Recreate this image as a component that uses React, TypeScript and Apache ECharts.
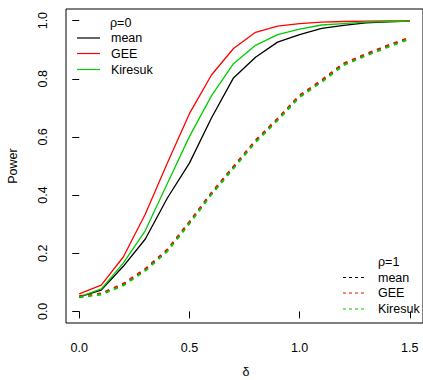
import React, { useEffect, useRef } from "react";
import * as echarts from "echarts";

const deltas = [0, 0.1, 0.2, 0.3, 0.4, 0.5, 0.6, 0.7, 0.8, 0.9, 1.0, 1.1, 1.2, 1.3, 1.4, 1.5];
const meanRho0 = [0.05, 0.073, 0.155, 0.249, 0.39, 0.51, 0.665, 0.803, 0.874, 0.926, 0.952, 0.973, 0.984, 0.992, 0.996, 0.998];
const geeRho0 = [0.06, 0.09, 0.187, 0.335, 0.51, 0.68, 0.813, 0.904, 0.96, 0.981, 0.99, 0.995, 0.997, 0.998, 0.999, 0.999];
const kiresukRho0 = [0.05, 0.077, 0.166, 0.278, 0.44, 0.601, 0.741, 0.852, 0.915, 0.952, 0.971, 0.985, 0.99, 0.995, 0.997, 0.998];
const meanRho1 = [0.05, 0.06, 0.092, 0.143, 0.21, 0.305, 0.405, 0.495, 0.585, 0.66, 0.74, 0.792, 0.85, 0.882, 0.912, 0.94];
const geeRho1 = [0.052, 0.062, 0.095, 0.146, 0.213, 0.308, 0.408, 0.498, 0.588, 0.663, 0.743, 0.795, 0.853, 0.885, 0.915, 0.942];
const kiresukRho1 = [0.049, 0.058, 0.089, 0.14, 0.207, 0.302, 0.402, 0.492, 0.582, 0.657, 0.737, 0.789, 0.847, 0.879, 0.909, 0.937];
const xTicks = [0, 0.5, 1.0, 1.5];
const yTicks = [0, 0.2, 0.4, 0.6, 0.8, 1.0];
const methods = ["mean", "GEE", "Kiresuk"];
const colors = ["#000000", "#FF0000", "#00CD00"];

const FONT = "Liberation Sans, Arial, sans-serif";
const FS = 12.5;

export default function App() {
  const ref = useRef<HTMLDivElement>(null);
  useEffect(() => {
    if (!ref.current) return;
    const chart = echarts.init(ref.current, null, { renderer: "svg" });
    const pairs = (ys: number[]) => deltas.map((d, i) => [d, ys[i]]);
    const solid = [meanRho0, geeRho0, kiresukRho0];
    const dashed = [meanRho1, geeRho1, kiresukRho1];
    const series: any[] = [];
    solid.forEach((ys, k) => {
      series.push({
        name: methods[k] + " (ρ=0)",
        type: "line",
        data: pairs(ys),
        showSymbol: false,
        symbol: "none",
        lineStyle: { color: colors[k], width: 1.3 },
      });
    });
    dashed.forEach((ys, k) => {
      series.push({
        name: methods[k] + " (ρ=1)",
        type: "line",
        data: pairs(ys),
        showSymbol: false,
        symbol: "none",
        lineStyle: { color: colors[k], width: 2, type: [4, 5] },
      });
    });

    const legendGraphics: any[] = [];
    const addLegend = (id: string, title: string, tx: number, ty: number, lx1: number, lx2: number, textX: number, ys: number[], dashed: boolean) => {
      legendGraphics.push({
        id: id + "-title",
        type: "text",
        x: tx,
        y: ty,
        style: { text: title, font: `${FS}px ${FONT}`, fill: "#000", textVerticalAlign: "middle", textAlign: "left" },
      });
      methods.forEach((m, k) => {
        const st: any = { stroke: colors[k], lineWidth: 1.2 };
        if (dashed) st.lineDash = [3, 3];
        legendGraphics.push({
          id: id + "-line-" + k,
          type: "line",
          shape: { x1: lx1, y1: ys[k], x2: lx2, y2: ys[k] },
          style: st,
        });
        legendGraphics.push({
          id: id + "-text-" + k,
          type: "text",
          x: textX,
          y: ys[k],
          style: { text: m, font: `${FS}px ${FONT}`, fill: "#000", textVerticalAlign: "middle", textAlign: "left" },
        });
      });
    };
    addLegend("l0", "ρ=0", 110, 23, 77, 100, 111, [38, 53.5, 69.5], false);
    addLegend("l1", "ρ=1", 378, 262, 343, 367, 378, [277.5, 293, 309], true);

    chart.setOption({
      animation: false,
      backgroundColor: "#fff",
      grid: {
        left: 66,
        top: 9,
        width: 359.6,
        height: 314,
        show: true,
        borderColor: "#000",
        borderWidth: 1,
        containLabel: false,
      },
      xAxis: {
        type: "value",
        min: -0.06,
        max: 1.56,
        splitLine: { show: false },
        axisLine: { show: false },
        axisTick: { show: true, length: 7, lineStyle: { color: "#000" }, customValues: xTicks },
        axisLabel: {
          customValues: xTicks,
          formatter: (v: number) => v.toFixed(1),
          fontFamily: FONT,
          fontSize: FS,
          color: "#000",
          margin: 18.5,
        },
      },
      yAxis: {
        type: "value",
        min: -0.04,
        max: 1.04,
        splitLine: { show: false },
        axisLine: { show: false },
        axisTick: { show: true, length: 7, lineStyle: { color: "#000" }, customValues: yTicks },
        axisLabel: {
          customValues: yTicks,
          formatter: (v: number) => v.toFixed(1),
          fontFamily: FONT,
          fontSize: FS,
          color: "#000",
          rotate: 90,
          margin: 17,
        },
      },
      series,
      graphic: [
        ...legendGraphics,
        {
          id: "ytitle",
          type: "text",
          x: 13,
          y: 166,
          rotation: Math.PI / 2,
          style: { text: "Power", font: `${FS}px ${FONT}`, fill: "#000", textAlign: "center", textVerticalAlign: "middle" },
        },
        {
          id: "xtitle",
          type: "text",
          x: 246,
          y: 372,
          style: { text: "δ", font: `${FS}px ${FONT}`, fill: "#000", textAlign: "center", textVerticalAlign: "middle" },
        },
      ],
    });
    return () => chart.dispose();
  }, []);
  return <div ref={ref} style={{ width: 423, height: 380, position: "absolute", left: 0, top: 0 }} />;
}
